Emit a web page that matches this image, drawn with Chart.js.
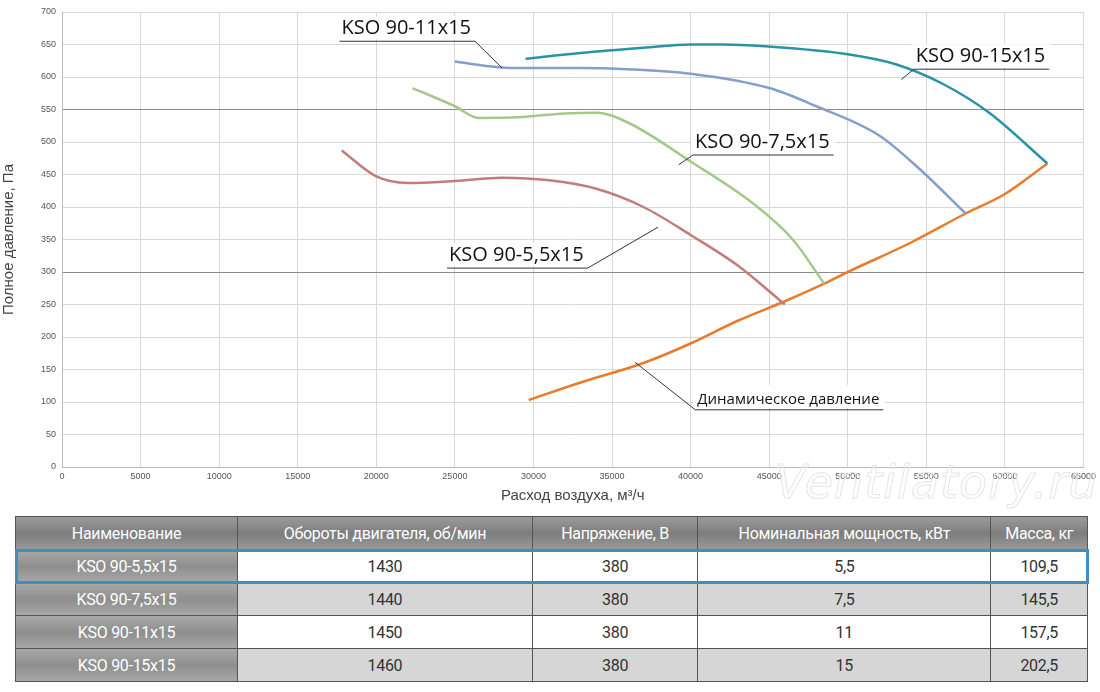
<!DOCTYPE html>
<html><head><meta charset="utf-8">
<script src="https://cdn.jsdelivr.net/npm/chart.js@4/dist/chart.umd.min.js"></script>
<style>
html,body{margin:0;padding:0;background:#fff;width:1100px;height:692px;overflow:hidden;font-family:"Open Sans",sans-serif}
#wrap{position:absolute;left:0;top:0;width:1100px;height:505px}
#wm{position:absolute;left:775px;top:455px;font:italic 46px "DejaVu Sans",sans-serif;color:transparent;-webkit-text-stroke:1px #e6e6e6;letter-spacing:1px}
table{position:absolute;left:15px;top:516px;border-collapse:collapse;width:1073px;font-family:"Roboto","Liberation Sans",sans-serif;font-size:16px;letter-spacing:-0.3px}
td,th{border:1px solid #555;text-align:center;height:32px;padding:0;color:#333;font-weight:normal}
th{background:linear-gradient(#9a9a9a,#7d7d7d,#9a9a9a);color:#fff}
td.n{background:linear-gradient(#a8a8a8,#8e8e8e,#a8a8a8);color:#fff}
tr.g td{background:#d6d6d6}
tr.g td.n{background:linear-gradient(#a8a8a8,#8e8e8e,#a8a8a8)}
tr.hl{outline:3px solid #3f8ec3;outline-offset:-2px}
</style></head><body>
<div id="wrap"><canvas id="c" width="1100" height="505"></canvas></div>
<div id="wm">Ventilatory.ru</div>
<table id="t"></table>
<script>
const xTicks=[0,5000,10000,15000,20000,25000,30000,35000,40000,45000,50000,55000,60000,65000];
const yTicks=[0,50,100,150,200,250,300,350,400,450,500,550,600,650,700];
const s55x=[17800,20000,22000,25000,28000,31000,34000,37000,40000,43000,46000];
const s55y=[487,447,437,440,445,441,428,400,357,310,250];
const s75x=[22300,25000,26500,29000,32000,34000,36000,40000,44000,46500,48500];
const s75y=[583,555,537,538,544,545,530,470,405,350,282];
const s11x=[25000,27000,28500,33000,36000,40000,45000,48000,52000,54500,57500];
const s11y=[624,617,614,614,612,605,583,555,510,460,390];
const s15x=[29500,33000,37000,40000,42000,46000,50000,53000,56000,59000,62700];
const s15y=[628,637,645,650,650,645,635,620,590,545,467];
const dynx=[29700,33000,37000,40000,43000,46000,48500,50000,54000,57500,60000,62700];
const dyny=[103,130,160,190,225,255,282,300,345,390,420,467];
const names=["KSO 90-5,5x15","KSO 90-7,5x15","KSO 90-11x15","KSO 90-15x15"];
const rpm=[1430,1440,1450,1460];
const volt=[380,380,380,380];
const power=["5,5","7,5","11","15"];
const mass=["109,5","145,5","157,5","202,5"];
const headers=["Наименование","Обороты двигателя, об/мин","Напряжение, В","Номинальная мощность, кВт","Масса, кг"];
const labels=[
 {t:"KSO 90-11x15",x1:17660,y:655,px:28000,py:614,from:"right"},
 {t:"KSO 90-15x15",x1:54200,y:612,px:53400,py:596,from:"left"},
 {t:"KSO 90-7,5x15",x1:40150,y:480,px:39250,py:465,from:"left"},
 {t:"KSO 90-5,5x15",x1:24500,y:306,px:37930,py:369,from:"right"},
 {t:"Динамическое давление",x1:40300,y:88,px:36470,py:161,from:"left",small:true}
];
const mk=(xs,ys)=>xs.map((x,i)=>({x,y:ys[i]}));
const ds=(d,c)=>({data:d,borderColor:c,borderWidth:2.5,pointRadius:0,tension:0.4,fill:false,cubicInterpolationMode:'monotone'});
const ann={id:'ann',afterDatasetsDraw(ch){
 const ctx=ch.ctx,xs=ch.scales.x,ys=ch.scales.y;
 ctx.save();
 labels.forEach(l=>{
  const a=xs.getPixelForValue(l.x1),y=ys.getPixelForValue(l.y);
  const px=xs.getPixelForValue(l.px),py=ys.getPixelForValue(l.py);
  ctx.font=l.small?'15px "Open Sans",sans-serif':'20px "Open Sans",sans-serif';
  const w=ctx.measureText(l.t).width;const b=a+w+6;
  ctx.fillStyle='#fff';ctx.fillRect(a-2,y-25,w+10,23);
  ctx.fillStyle='#111';ctx.textBaseline='bottom';ctx.fillText(l.t,a+2,y-3);
  ctx.strokeStyle='#333';ctx.lineWidth=1;ctx.beginPath();ctx.moveTo(a,y);ctx.lineTo(b,y);
  ctx.moveTo(l.from==='left'?a:b,y);ctx.lineTo(px,py);ctx.stroke();
 });
 ctx.restore();
}};
new Chart(document.getElementById('c'),{type:'line',
 data:{datasets:[ds(mk(s55x,s55y),'#c27c7c'),ds(mk(s75x,s75y),'#a5c98a'),ds(mk(s11x,s11y),'#859fcc'),ds(mk(s15x,s15y),'#2b93a6'),ds(mk(dynx,dyny),'#e87c2c')]},
 options:{responsive:false,animation:false,layout:{padding:{top:12,right:15,left:0,bottom:0}},
  plugins:{legend:{display:false},tooltip:{enabled:false}},
  scales:{
   x:{type:'linear',min:0,max:65000,afterBuildTicks:s=>{s.ticks=xTicks.map(v=>({value:v}))},
    grid:{color:'#d8d8d8',drawTicks:false},border:{color:'#bbb'},
    ticks:{color:'#555',font:{size:9},padding:4,maxRotation:0,autoSkip:false,callback:v=>String(v)},
    title:{display:true,text:'Расход воздуха, м³/ч',color:'#444',font:{size:15},padding:0},
    afterFit:s=>{s.height=38}},
   y:{min:0,max:700,afterBuildTicks:s=>{s.ticks=yTicks.map(v=>({value:v}))},
    grid:{color:c=>(c.tick&&(c.tick.value===300||c.tick.value===550))?'#8a8a8a':'#d8d8d8',drawTicks:false},border:{color:'#bbb'},
    ticks:{color:'#555',font:{size:9},padding:6,autoSkip:false,callback:v=>String(v)},
    title:{display:true,text:'Полное давление, Па',color:'#444',font:{size:15},padding:0},
    afterFit:s=>{s.width=62}}
  }},
 plugins:[ann]});
const t=document.getElementById('t');
let h='<tr>'+headers.map(x=>'<th>'+x+'</th>').join('')+'</tr>';
names.forEach((n,i)=>{h+='<tr class="'+(i%2?'g':'')+(i===0?' hl':'')+'"><td class="n">'+n+'</td><td>'+rpm[i]+'</td><td>'+volt[i]+'</td><td>'+power[i]+'</td><td>'+mass[i]+'</td></tr>';});
t.innerHTML=h;
[222,296,165,294,96].forEach((w,i)=>t.rows[0].cells[i].style.width=w+'px');
</script></body></html>
